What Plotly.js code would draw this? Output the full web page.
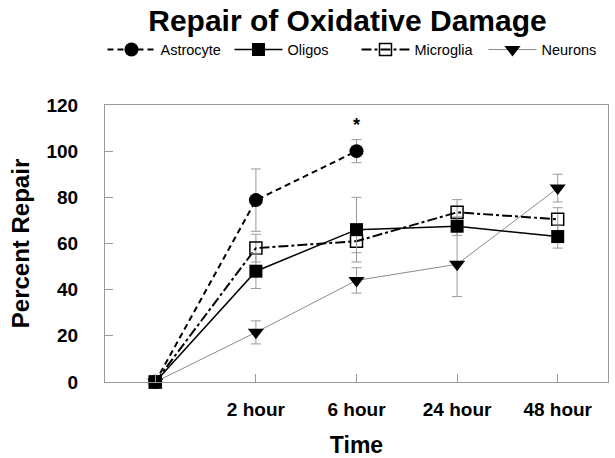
<!DOCTYPE html>
<html><head><meta charset="utf-8">
<script src="https://cdn.plot.ly/plotly-3.0.1.min.js"></script>
<style>body{margin:0;background:#fff}#c{width:615px;height:458px}</style>
</head><body><div id="c"></div>
<script>
var timeIdx = [0, 1, 2, 3, 4];
var tickLabels = ["", "2 hour", "6 hour", "24 hour", "48 hour"];
var astro = [0, 78.8, 100, null, null];
var astroErr = [0, 13.5, 5, 0, 0];
var oligos = [0, 48, 66, 67.5, 63];
var oligosErr = [0, 7.5, 14, 4, 5];
var micro = [0, 58, 61, 73.5, 70.5];
var microErr = [0, 6, 5, 5.5, 5];
var neurons = [0, 21.5, 44, 51, 84];
var neuronsErr = [0, 5, 5.5, 14, 6];

var F = "Liberation Sans, Arial, sans-serif";
function eb(arr){return {type:'data', array:arr, visible:true, color:'#9a9a9a', thickness:1, width:5};}

var traces = [
 {x:timeIdx, y:neurons, name:'Neurons', mode:'lines+markers', legendrank:4, error_y:eb(neuronsErr), cliponaxis:false,
  line:{color:'#8c8c8c', width:1}, marker:{symbol:'triangle-down', size:14, color:'#000'}},
 {x:timeIdx, y:micro, name:'Microglia', mode:'lines+markers', legendrank:3, error_y:eb(microErr), cliponaxis:false,
  line:{color:'#000', width:2, dash:'10px,3px,3px,3px'}, marker:{symbol:'square-open', size:12, color:'#000', line:{width:1.5}}},
 {x:timeIdx, y:astro, name:'Astrocyte', mode:'lines+markers', legendrank:1, error_y:eb(astroErr), cliponaxis:false,
  line:{color:'#000', width:2, dash:'6px,4px'}, marker:{symbol:'circle', size:14, color:'#000'}},
 {x:timeIdx, y:oligos, name:'Oligos', mode:'lines+markers', legendrank:2, error_y:eb(oligosErr), cliponaxis:false,
  line:{color:'#000', width:1.5}, marker:{symbol:'square', size:13, color:'#000'}}
];

var layout = {
 width:615, height:458, paper_bgcolor:'#fff', plot_bgcolor:'#fff',
 margin:{l:105, r:7, t:105, b:76},
 title:{text:'<b>Repair of Oxidative Damage</b>', font:{family:F, size:30, color:'#000'}, x:0.565, xanchor:'center', y:0.955, yanchor:'middle'},
 showlegend:true,
 legend:{orientation:'h', x:-0.005, xanchor:'left', y:1.2, yanchor:'middle', font:{family:F, size:14.5, color:'#000'}, traceorder:'normal', itemwidth:48, entrywidth:64},
 xaxis:{range:[-0.5,4.5], tickvals:timeIdx, ticktext:tickLabels, ticks:'inside', ticklen:8, tickcolor:'#999',
  showgrid:false, zeroline:false, showline:true, linecolor:'#999', linewidth:1, mirror:true,
  tickfont:{family:F, size:19, color:'#000', weight:'bold'}, ticklabelstandoff:10,
  title:{text:'<b>Time</b>', font:{family:F, size:23, color:'#000'}, standoff:18}},
 yaxis:{range:[0,120], dtick:20, ticks:'inside', ticklen:8, tickcolor:'#999',
  showgrid:false, zeroline:false, showline:true, linecolor:'#999', linewidth:1, mirror:true,
  tickfont:{family:F, size:19, color:'#000', weight:'bold'}, ticklabelstandoff:22,
  title:{text:'<b>Percent Repair</b>', font:{family:F, size:24, color:'#000'}, standoff:10}},
 annotations:[{x:2, y:111.5, xref:'x', yref:'y', text:'<b>*</b>', showarrow:false, font:{family:F, size:18, color:'#000'}}]
};
Plotly.newPlot('c', traces, layout, {displayModeBar:false, staticPlot:true});
</script></body></html>
